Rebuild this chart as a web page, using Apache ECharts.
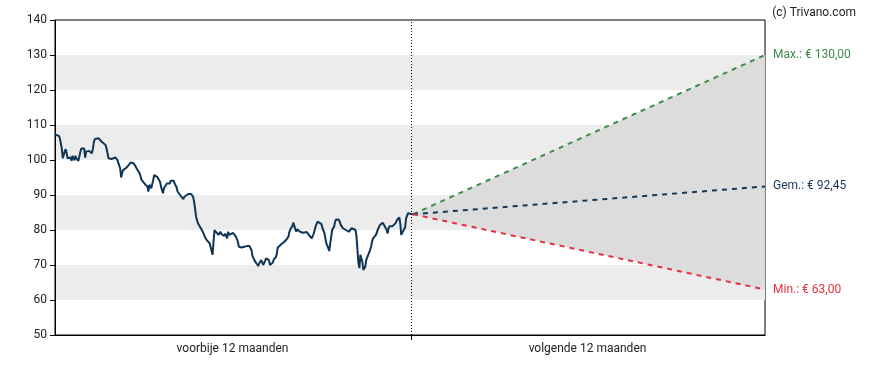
<!DOCTYPE html>
<html>
<head>
<meta charset="utf-8">
<script src="https://cdn.jsdelivr.net/npm/echarts@6/dist/echarts.min.js"></script>
<style>
  html, body { margin: 0; padding: 0; background: #fff; }
  #chart { width: 888px; height: 370px; }
</style>
</head>
<body>
<div id="chart"></div>
<script>
// ---- data ----
const histDays = [0,4,5,7,8,10,11,12,13,14,16,17,18,20,21,22,23,24,26,27,28,30,31,32,33,34,35,37,38,39,40,41,43,45,46,48,50,52,53,54,55,57,58,60,62,64,65,66,67,68,69,70,71,73,75,77,78,80,81,83,85,86,87,89,91,92,95,96,97,98,99,101,102,104,105,106,108,109,111,112,114,115,117,118,119,121,122,123,125,126,128,130,132,133,135,137,138,140,142,143,144,145,147,149,152,154,156,157,159,161,162,163,164,166,168,170,171,173,174,175,177,178,179,181,183,185,186,188,189,190,192,194,197,198,200,202,203,204,205,207,209,210,212,213,214,216,217,218,220,221,223,224,225,227,228,229,231,233,236,238,240,241,242,244,245,246,248,249,250,252,253,255,256,257,259,260,261,263,264,266,267,268,270,271,272,274,275,277,278,279,281,282,283,284,285,287,288,289,291,292,294,295,296,298,299,300,302,303,305,306,307,309,310,311,312,313,314,315,316,317,318,319,320,321,322,323,324,325,326,327,328,330,331,332,334,335,337,338,339,341,342,343,344,346,347,348,350,351,352,354,355,356,357,358,360,361,363,364,366,368];
const histPrices = [107.3,106.9,106.2,103.3,100.5,102.4,103.1,101.9,100.5,100.5,100.7,99.8,101.2,99.9,101.2,100.5,101,99.7,102.2,103.3,103.7,103.3,100.7,102.4,102.6,102.2,102.6,102.2,101.9,103.3,105.2,106,106.4,106.2,105.7,105.2,104.8,104.3,103.3,101.9,100.5,100.2,100.3,100.2,100.7,100.1,100.5,100,97.6,95,96.2,97.1,97.6,97.7,98.3,98.8,99.3,99.7,99,98.1,97.1,96.7,96.2,94.3,93.8,93.3,92.4,91,92.9,93.3,91.9,94.3,95.7,95.7,95.2,94.8,93.8,92.4,90.5,91.9,91.4,93.3,93.8,93.3,94.1,94.5,94.1,93.3,92.2,91,90.5,89.5,88.8,89.5,90,90.3,90.5,90.3,89.5,88.1,86.2,83.8,81.9,81.5,79.5,78.1,77.1,76.7,76.2,75.7,72.9,76.7,80,80.5,78.6,79.5,78.9,79.2,78.3,79,77.6,79.5,78.6,79,79.2,79,78.1,76.7,75.2,75.4,75,75.2,75.4,75.7,75.4,74.3,72.6,72.2,71.4,70.5,69.7,70.5,71.4,71,70,71.2,71.9,72.2,71.4,70,69.7,70.7,71.6,72.2,73.1,75,75.4,76,76.7,77.3,78.1,79.5,80.2,81.1,82.1,82.4,79.5,80.2,80,79.5,80,79.2,79.5,78.9,79.4,79,78.6,78.1,77.6,79,80,81.1,82.4,82.9,82.7,81.7,80.5,79.2,77.6,76.2,74.8,74,76.2,78.1,80,81,82.4,83,83.3,82.9,81.4,81.9,80.5,81,80,80.2,79.5,80,80.5,80.8,80.5,80,78.1,74.3,70.5,69.1,72.9,71.9,71,68.6,68.1,69.5,71.4,71.9,72.9,73.5,74.3,75.2,76.7,77.6,78.1,78.6,79,80.2,81.4,81.7,82.1,81.9,81.1,80,79,80.5,81.1,80.8,81.1,81.4,81.9,82.4,83,83.6,81.9,78.6,78.1,79,80.8,83.3,84.8,85,84.6,84.5];

const splitDay = 366;
const forecastDays = [368, 730];
const maxPath = [84.5, 130.00];
const avgPath = [84.5, 92.45];
const minPath = [84.5, 63.00];

const periodLabels = ['voorbije 12 maanden', 'volgende 12 maanden'];
const labelMax = 'Max.: € 130,00';
const labelAvg = 'Gem.: € 92,45';
const labelMin = 'Min.: € 63,00';
const copyright = '(c) Trivano.com';

// ---- chart ----
const FONT = 'Roboto, "Liberation Sans", sans-serif';
const chart = echarts.init(document.getElementById('chart'), null, { renderer: 'canvas' });

function pairs(xs, ys) { return xs.map((x, i) => [x, ys[i]]); }

function dashedSeries(name, values, color, text) {
  return {
    name: name,
    type: 'line',
    data: pairs(forecastDays, values),
    showSymbol: false,
    symbol: 'none',
    z: 4,
    lineStyle: { color: color, width: 2, type: [5, 5] },
    endLabel: {
      show: true,
      formatter: () => text,
      color: color,
      fontSize: 12,
      fontFamily: FONT,
      distance: 8
    }
  };
}

const option = {
  animation: false,
  backgroundColor: '#fff',
  title: {
    text: copyright,
    right: 27,
    top: 2,
    textStyle: { fontSize: 12, fontWeight: 'normal', color: '#222', fontFamily: FONT }
  },
  grid: {
    left: 55, right: 123, top: 20, bottom: 35,
    show: true, borderColor: '#000', borderWidth: 1, backgroundColor: 'transparent'
  },
  xAxis: {
    type: 'value',
    min: 0,
    max: 730,
    axisLine: { show: true, lineStyle: { color: '#000', width: 1 } },
    axisTick: { show: true, customValues: [splitDay], length: 5, lineStyle: { color: '#000' } },
    axisLabel: {
      show: true,
      customValues: [182.5, 547.5],
      formatter: v => (v < splitDay ? periodLabels[0] : periodLabels[1]),
      color: '#222',
      fontSize: 12,
      fontFamily: FONT,
      margin: 8
    },
    splitLine: { show: false }
  },
  yAxis: {
    type: 'value',
    min: 50,
    max: 140,
    interval: 10,
    axisLine: { show: true, lineStyle: { color: '#000', width: 1 } },
    axisTick: { show: true, length: 5, lineStyle: { color: '#000' } },
    axisLabel: { color: '#222', fontSize: 12, fontFamily: FONT, margin: 8 },
    splitLine: { show: false },
    splitArea: { show: true, areaStyle: { color: ['rgba(255,255,255,0)', '#ececec'] } }
  },
  series: [
    {
      name: 'range',
      type: 'custom',
      z: 2,
      data: [[forecastDays[0], maxPath[0]]],
      renderItem: function (params, api) {
        const p0 = api.coord([forecastDays[0], maxPath[0]]);
        const p1 = api.coord([forecastDays[1], maxPath[1]]);
        const p2 = api.coord([forecastDays[1], minPath[1]]);
        return { type: 'polygon', shape: { points: [p0, p1, p2] }, style: { fill: '#dcdcdc' } };
      },
      silent: true
    },
    {
      name: 'koers',
      type: 'line',
      data: pairs(histDays, histPrices),
      showSymbol: false,
      symbol: 'none',
      z: 5,
      lineStyle: { color: '#0e3556', width: 2 },
      markLine: {
        silent: true,
        symbol: ['none', 'none'],
        label: { show: false },
        lineStyle: { color: '#000', width: 1, type: [1, 2] },
        data: [{ xAxis: splitDay }]
      }
    },
    dashedSeries('max', maxPath, '#3d8c4a', labelMax),
    dashedSeries('gem', avgPath, '#15385a', labelAvg),
    dashedSeries('min', minPath, '#e5303e', labelMin)
  ]
};

chart.setOption(option);
</script>
</body>
</html>
